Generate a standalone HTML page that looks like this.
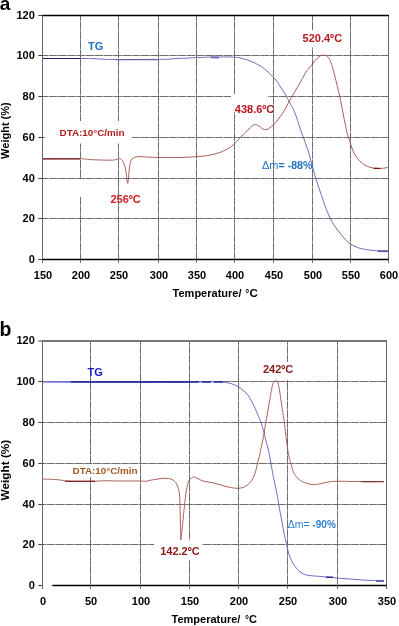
<!DOCTYPE html>
<html><head><meta charset="utf-8"><style>
html,body{margin:0;padding:0;background:#fff;width:399px;height:626px;overflow:hidden;}
svg{display:block;filter:blur(0.3px);}
</style></head><body>
<svg width="399" height="626" viewBox="0 0 399 626">
<style>text{font-family:"Liberation Sans",sans-serif;} .tl{font-size:11px;font-weight:bold;fill:#000;} .ti{font-size:11px;font-weight:bold;fill:#000;} .an{font-size:11px;font-weight:bold;}</style>
<rect width="399" height="626" fill="#fff"/>
<line x1="80.5" y1="15.5" x2="80.5" y2="259.5" stroke="#6e6e6e" stroke-width="1" stroke-dasharray="8.6 0.6" stroke-dashoffset="2.8"/>
<line x1="118.5" y1="15.5" x2="118.5" y2="259.5" stroke="#6e6e6e" stroke-width="1" stroke-dasharray="8.6 0.6" stroke-dashoffset="2.8"/>
<line x1="158.5" y1="15.5" x2="158.5" y2="259.5" stroke="#6e6e6e" stroke-width="1" stroke-dasharray="8.6 0.6" stroke-dashoffset="2.8"/>
<line x1="196.5" y1="15.5" x2="196.5" y2="259.5" stroke="#6e6e6e" stroke-width="1" stroke-dasharray="8.6 0.6" stroke-dashoffset="2.8"/>
<line x1="234.5" y1="15.5" x2="234.5" y2="259.5" stroke="#6e6e6e" stroke-width="1" stroke-dasharray="8.6 0.6" stroke-dashoffset="2.8"/>
<line x1="273.5" y1="15.5" x2="273.5" y2="259.5" stroke="#6e6e6e" stroke-width="1" stroke-dasharray="8.6 0.6" stroke-dashoffset="2.8"/>
<line x1="312.5" y1="15.5" x2="312.5" y2="259.5" stroke="#6e6e6e" stroke-width="1" stroke-dasharray="8.6 0.6" stroke-dashoffset="2.8"/>
<line x1="350.5" y1="15.5" x2="350.5" y2="259.5" stroke="#6e6e6e" stroke-width="1" stroke-dasharray="8.6 0.6" stroke-dashoffset="2.8"/>
<line x1="42.5" y1="55.5" x2="388.5" y2="55.5" stroke="#6e6e6e" stroke-width="1" stroke-dasharray="8.6 0.6" stroke-dashoffset="2.8"/>
<line x1="42.5" y1="96.5" x2="388.5" y2="96.5" stroke="#6e6e6e" stroke-width="1" stroke-dasharray="8.6 0.6" stroke-dashoffset="2.8"/>
<line x1="42.5" y1="137.5" x2="388.5" y2="137.5" stroke="#6e6e6e" stroke-width="1" stroke-dasharray="8.6 0.6" stroke-dashoffset="2.8"/>
<line x1="42.5" y1="178.5" x2="388.5" y2="178.5" stroke="#6e6e6e" stroke-width="1" stroke-dasharray="8.6 0.6" stroke-dashoffset="2.8"/>
<line x1="42.5" y1="218.5" x2="388.5" y2="218.5" stroke="#6e6e6e" stroke-width="1" stroke-dasharray="8.6 0.6" stroke-dashoffset="2.8"/>
<path d="M42.40,58.50 C48.67,58.50 71.57,58.48 80.00,58.50 C88.43,58.52 88.83,58.47 93.00,58.60 C97.17,58.73 101.33,59.15 105.00,59.30 C108.67,59.45 107.50,59.48 115.00,59.50 C122.50,59.52 141.17,59.45 150.00,59.40 C158.83,59.35 163.83,59.33 168.00,59.20 C172.17,59.07 171.33,58.80 175.00,58.60 C178.67,58.40 185.83,58.18 190.00,58.00 C194.17,57.82 196.67,57.65 200.00,57.50 C203.33,57.35 205.00,57.18 210.00,57.10 C215.00,57.02 225.83,56.97 230.00,57.00 C234.17,57.03 233.33,57.15 235.00,57.30 C236.67,57.45 237.50,57.30 240.00,57.90 C242.50,58.50 246.67,59.58 250.00,60.90 C253.33,62.22 257.33,64.25 260.00,65.80 C262.67,67.35 263.50,68.00 266.00,70.20 C268.50,72.40 272.67,76.37 275.00,79.00 C277.33,81.63 278.33,83.50 280.00,86.00 C281.67,88.50 283.33,91.17 285.00,94.00 C286.67,96.83 288.33,99.83 290.00,103.00 C291.67,106.17 293.33,108.83 295.00,113.00 C296.67,117.17 298.45,123.50 300.00,128.00 C301.55,132.50 302.97,136.25 304.30,140.00 C305.63,143.75 306.63,146.08 308.00,150.50 C309.37,154.92 311.20,161.83 312.50,166.50 C313.80,171.17 314.55,174.42 315.80,178.50 C317.05,182.58 318.80,187.42 320.00,191.00 C321.20,194.58 322.17,197.53 323.00,200.00 C323.83,202.47 323.83,202.80 325.00,205.80 C326.17,208.80 328.33,214.55 330.00,218.00 C331.67,221.45 333.33,224.00 335.00,226.50 C336.67,229.00 338.33,230.88 340.00,233.00 C341.67,235.12 343.33,237.42 345.00,239.20 C346.67,240.98 348.33,242.52 350.00,243.70 C351.67,244.88 353.33,245.53 355.00,246.30 C356.67,247.07 357.50,247.67 360.00,248.30 C362.50,248.93 366.67,249.65 370.00,250.10 C373.33,250.55 377.00,250.85 380.00,251.00 C383.00,251.15 386.67,251.00 388.00,251.00" fill="none" stroke="#5e5eae" stroke-width="0.9"/>
<path d="M42.4,58.5 L80,58.5" fill="none" stroke="#20206a" stroke-width="1.2"/>
<path d="M42.40,158.80 C48.67,158.80 72.07,158.67 80.00,158.80 C87.93,158.93 85.00,159.37 90.00,159.60 C95.00,159.83 105.67,160.20 110.00,160.20 C114.33,160.20 114.42,159.83 116.00,159.60 C117.58,159.37 118.50,158.70 119.50,158.80 C120.50,158.90 121.17,159.17 122.00,160.20 C122.83,161.23 123.83,163.03 124.50,165.00 C125.17,166.97 125.50,168.95 126.00,172.00 C126.50,175.05 127.07,182.47 127.50,183.30 C127.93,184.13 128.32,179.22 128.60,177.00 C128.88,174.78 128.93,172.33 129.20,170.00 C129.47,167.67 129.73,164.83 130.20,163.00 C130.67,161.17 131.20,159.97 132.00,159.00 C132.80,158.03 133.67,157.60 135.00,157.20 C136.33,156.80 137.50,156.60 140.00,156.60 C142.50,156.60 146.67,157.05 150.00,157.20 C153.33,157.35 155.00,157.45 160.00,157.50 C165.00,157.55 173.33,157.68 180.00,157.50 C186.67,157.32 195.00,156.82 200.00,156.40 C205.00,155.98 206.67,155.67 210.00,155.00 C213.33,154.33 216.67,153.65 220.00,152.40 C223.33,151.15 227.25,149.30 230.00,147.50 C232.75,145.70 234.67,143.33 236.50,141.60 C238.33,139.87 239.58,138.60 241.00,137.10 C242.42,135.60 243.67,133.95 245.00,132.60 C246.33,131.25 247.83,130.10 249.00,129.00 C250.17,127.90 250.92,126.75 252.00,126.00 C253.08,125.25 254.33,124.50 255.50,124.50 C256.67,124.50 257.92,125.33 259.00,126.00 C260.08,126.67 261.08,127.90 262.00,128.50 C262.92,129.10 263.67,129.43 264.50,129.60 C265.33,129.77 266.08,129.83 267.00,129.50 C267.92,129.17 268.95,128.33 270.00,127.60 C271.05,126.87 272.25,126.07 273.30,125.10 C274.35,124.13 275.18,123.17 276.30,121.80 C277.42,120.43 278.75,118.65 280.00,116.90 C281.25,115.15 282.58,113.28 283.80,111.30 C285.02,109.32 286.35,106.75 287.30,105.00 C288.25,103.25 288.75,102.18 289.50,100.80 C290.25,99.42 290.92,98.20 291.80,96.70 C292.68,95.20 293.80,93.50 294.80,91.80 C295.80,90.10 296.80,88.25 297.80,86.50 C298.80,84.75 299.80,83.05 300.80,81.30 C301.80,79.55 302.93,77.53 303.80,76.00 C304.67,74.47 305.13,73.38 306.00,72.10 C306.87,70.82 308.00,69.50 309.00,68.30 C310.00,67.10 311.12,66.03 312.00,64.90 C312.88,63.77 313.42,62.62 314.30,61.50 C315.18,60.38 316.30,59.13 317.30,58.20 C318.30,57.27 319.38,56.42 320.30,55.90 C321.22,55.38 321.95,55.20 322.80,55.10 C323.65,55.00 324.57,54.98 325.40,55.30 C326.23,55.62 327.00,56.13 327.80,57.00 C328.60,57.87 329.33,58.52 330.20,60.50 C331.07,62.48 332.15,66.00 333.00,68.90 C333.85,71.80 334.55,74.92 335.30,77.90 C336.05,80.88 336.77,83.73 337.50,86.80 C338.23,89.87 339.05,93.32 339.70,96.30 C340.35,99.28 340.75,101.43 341.40,104.70 C342.05,107.97 342.77,111.68 343.60,115.90 C344.43,120.12 345.62,126.48 346.40,130.00 C347.18,133.52 347.70,135.00 348.30,137.00 C348.90,139.00 349.38,140.12 350.00,142.00 C350.62,143.88 351.17,146.13 352.00,148.30 C352.83,150.47 353.67,152.82 355.00,155.00 C356.33,157.18 358.33,159.70 360.00,161.40 C361.67,163.10 363.33,164.22 365.00,165.20 C366.67,166.18 368.33,166.78 370.00,167.30 C371.67,167.82 373.33,168.10 375.00,168.30 C376.67,168.50 378.33,168.55 380.00,168.50 C381.67,168.45 383.67,168.20 385.00,168.00 C386.33,167.80 387.50,167.42 388.00,167.30" fill="none" stroke="#a04e48" stroke-width="0.9"/>
<path d="M42.4,158.8 L80,158.8" fill="none" stroke="#7a1c1c" stroke-width="1.3"/>
<path d="M373.5,168.4 L380,168.4" fill="none" stroke="#6a1818" stroke-width="1.3"/>
<path d="M378,251.2 L388,251.2" fill="none" stroke="#5656a8" stroke-width="1.7"/>
<path d="M211,57.4 L219,57.6" fill="none" stroke="#6a6ab8" stroke-width="1.6"/>
<path d="M116,59.6 L158,59.6" fill="none" stroke="#6464b0" stroke-width="1.4"/>
<line x1="42.5" y1="15.5" x2="42.5" y2="262.8" stroke="#666" stroke-width="1"/>
<line x1="388.5" y1="15.5" x2="388.5" y2="262.8" stroke="#666" stroke-width="1"/>
<line x1="42.0" y1="15.5" x2="389.0" y2="15.5" stroke="#000" stroke-width="1.4"/>
<line x1="42.0" y1="259.5" x2="389.0" y2="259.5" stroke="#000" stroke-width="1.4"/>
<line x1="38.3" y1="15.5" x2="42.5" y2="15.5" stroke="#444" stroke-width="1"/>
<text x="34.8" y="19.0" text-anchor="end" class="tl">120</text>
<line x1="38.3" y1="55.5" x2="42.5" y2="55.5" stroke="#444" stroke-width="1"/>
<text x="34.8" y="59.0" text-anchor="end" class="tl">100</text>
<line x1="38.3" y1="96.5" x2="42.5" y2="96.5" stroke="#444" stroke-width="1"/>
<text x="34.8" y="100.0" text-anchor="end" class="tl">80</text>
<line x1="38.3" y1="137.5" x2="42.5" y2="137.5" stroke="#444" stroke-width="1"/>
<text x="34.8" y="141.0" text-anchor="end" class="tl">60</text>
<line x1="38.3" y1="178.5" x2="42.5" y2="178.5" stroke="#444" stroke-width="1"/>
<text x="34.8" y="182.0" text-anchor="end" class="tl">40</text>
<line x1="38.3" y1="218.5" x2="42.5" y2="218.5" stroke="#444" stroke-width="1"/>
<text x="34.8" y="222.0" text-anchor="end" class="tl">20</text>
<line x1="38.3" y1="259.5" x2="42.5" y2="259.5" stroke="#444" stroke-width="1"/>
<text x="34.8" y="263.0" text-anchor="end" class="tl">0</text>
<line x1="42.5" y1="259.5" x2="42.5" y2="262.8" stroke="#666" stroke-width="1"/>
<text x="43.0" y="279.2" text-anchor="middle" class="tl">150</text>
<line x1="80.5" y1="259.5" x2="80.5" y2="262.8" stroke="#666" stroke-width="1"/>
<text x="81.0" y="279.2" text-anchor="middle" class="tl">200</text>
<line x1="118.5" y1="259.5" x2="118.5" y2="262.8" stroke="#666" stroke-width="1"/>
<text x="119.0" y="279.2" text-anchor="middle" class="tl">250</text>
<line x1="158.5" y1="259.5" x2="158.5" y2="262.8" stroke="#666" stroke-width="1"/>
<text x="159.0" y="279.2" text-anchor="middle" class="tl">300</text>
<line x1="196.5" y1="259.5" x2="196.5" y2="262.8" stroke="#666" stroke-width="1"/>
<text x="197.0" y="279.2" text-anchor="middle" class="tl">350</text>
<line x1="234.5" y1="259.5" x2="234.5" y2="262.8" stroke="#666" stroke-width="1"/>
<text x="235.0" y="279.2" text-anchor="middle" class="tl">400</text>
<line x1="273.5" y1="259.5" x2="273.5" y2="262.8" stroke="#666" stroke-width="1"/>
<text x="274.0" y="279.2" text-anchor="middle" class="tl">450</text>
<line x1="312.5" y1="259.5" x2="312.5" y2="262.8" stroke="#666" stroke-width="1"/>
<text x="313.0" y="279.2" text-anchor="middle" class="tl">500</text>
<line x1="350.5" y1="259.5" x2="350.5" y2="262.8" stroke="#666" stroke-width="1"/>
<text x="351.0" y="279.2" text-anchor="middle" class="tl">550</text>
<line x1="388.5" y1="259.5" x2="388.5" y2="262.8" stroke="#666" stroke-width="1"/>
<text x="389.0" y="279.2" text-anchor="middle" class="tl">600</text>
<text x="-0.3" y="9.9" style="font-size:19px;font-weight:bold">a</text>
<text x="172.6" y="297.4" class="ti">Temperature/<tspan x="245.3" y="297.4" style="font-size:10px">°</tspan><tspan x="249.5" y="297.4" style="font-size:11.5px">C</tspan></text>
<text transform="translate(9.0,158.9) rotate(-90)" x="0" y="0" class="ti">Weight (%)</text>
<text x="88" y="49.8" style="font-size:11px;font-weight:bold;fill:#1f6fbf">TG</text>
<rect x="45" y="121" width="87" height="22.5" fill="#fff"/>
<text x="59.6" y="135.6" style="font-size:9.85px;font-weight:bold;fill:#b01c1c">DTA:10°C/min</text>
<rect x="79" y="179.2" width="3" height="17.6" fill="#fff"/>
<text x="110.4" y="203.1" style="font-size:11px;font-weight:bold;fill:#d02020">256ºC</text>
<rect x="231" y="94" width="37" height="18" fill="#fff"/>
<text x="234.8" y="112.6" style="font-size:11px;font-weight:bold;fill:#b8161e">438.6ºC</text>
<rect x="300" y="30" width="44" height="17.5" fill="#fff"/>
<text x="302.6" y="42.4" style="font-size:11px;font-weight:bold;fill:#b8161e">520.4ºC</text>
<text x="262.0" y="169.2" style="font-size:11px;fill:#1f70c0">Δm<tspan style="font-size:10.6px;font-weight:bold">= -88%</tspan></text>
<line x1="90.5" y1="341.0" x2="90.5" y2="585.5" stroke="#6e6e6e" stroke-width="1" stroke-dasharray="8.6 0.6" stroke-dashoffset="4.8"/>
<line x1="140.5" y1="341.0" x2="140.5" y2="585.5" stroke="#6e6e6e" stroke-width="1" stroke-dasharray="8.6 0.6" stroke-dashoffset="4.8"/>
<line x1="189.5" y1="341.0" x2="189.5" y2="585.5" stroke="#6e6e6e" stroke-width="1" stroke-dasharray="8.6 0.6" stroke-dashoffset="4.8"/>
<line x1="238.5" y1="341.0" x2="238.5" y2="585.5" stroke="#6e6e6e" stroke-width="1" stroke-dasharray="8.6 0.6" stroke-dashoffset="4.8"/>
<line x1="287.5" y1="341.0" x2="287.5" y2="585.5" stroke="#6e6e6e" stroke-width="1" stroke-dasharray="8.6 0.6" stroke-dashoffset="4.8"/>
<line x1="337.5" y1="341.0" x2="337.5" y2="585.5" stroke="#6e6e6e" stroke-width="1" stroke-dasharray="8.6 0.6" stroke-dashoffset="4.8"/>
<line x1="42.5" y1="381.5" x2="386.5" y2="381.5" stroke="#6e6e6e" stroke-width="1" stroke-dasharray="8.6 0.6" stroke-dashoffset="4.8"/>
<line x1="42.5" y1="422.5" x2="386.5" y2="422.5" stroke="#6e6e6e" stroke-width="1" stroke-dasharray="8.6 0.6" stroke-dashoffset="4.8"/>
<line x1="42.5" y1="463.5" x2="386.5" y2="463.5" stroke="#6e6e6e" stroke-width="1" stroke-dasharray="8.6 0.6" stroke-dashoffset="4.8"/>
<line x1="42.5" y1="504.5" x2="386.5" y2="504.5" stroke="#6e6e6e" stroke-width="1" stroke-dasharray="8.6 0.6" stroke-dashoffset="4.8"/>
<line x1="42.5" y1="544.5" x2="386.5" y2="544.5" stroke="#6e6e6e" stroke-width="1" stroke-dasharray="8.6 0.6" stroke-dashoffset="4.8"/>
<path d="M42.50,381.80 C47.25,381.82 54.75,381.87 71.00,381.90 C87.25,381.93 120.17,381.98 140.00,382.00 C159.83,382.02 177.50,382.03 190.00,382.00 C202.50,381.97 209.58,381.80 215.00,381.80 C220.42,381.80 220.00,381.75 222.50,382.00 C225.00,382.25 227.75,382.72 230.00,383.30 C232.25,383.88 234.33,384.73 236.00,385.50 C237.67,386.27 238.70,387.00 240.00,387.90 C241.30,388.80 242.52,389.77 243.80,390.90 C245.08,392.03 246.42,393.00 247.70,394.70 C248.98,396.40 250.23,398.75 251.50,401.10 C252.77,403.45 254.13,406.25 255.30,408.80 C256.47,411.35 257.53,414.07 258.50,416.40 C259.47,418.73 260.25,420.35 261.10,422.80 C261.95,425.25 262.73,427.90 263.60,431.10 C264.47,434.30 265.43,438.58 266.30,442.00 C267.17,445.42 268.10,448.43 268.80,451.60 C269.50,454.77 269.72,456.68 270.50,461.00 C271.28,465.32 272.48,472.33 273.50,477.50 C274.52,482.67 275.58,486.72 276.60,492.00 C277.62,497.28 278.70,504.20 279.60,509.20 C280.50,514.20 281.20,517.73 282.00,522.00 C282.80,526.27 283.60,530.93 284.40,534.80 C285.20,538.67 286.20,542.53 286.80,545.20 C287.40,547.87 287.47,548.80 288.00,550.80 C288.53,552.80 289.13,555.07 290.00,557.20 C290.87,559.33 292.00,561.60 293.20,563.60 C294.40,565.60 295.73,567.60 297.20,569.20 C298.67,570.80 300.13,572.17 302.00,573.20 C303.87,574.23 305.40,574.87 308.40,575.40 C311.40,575.93 316.40,576.07 320.00,576.40 C323.60,576.73 326.67,577.08 330.00,577.40 C333.33,577.72 336.67,578.03 340.00,578.30 C343.33,578.57 346.67,578.75 350.00,579.00 C353.33,579.25 356.67,579.57 360.00,579.80 C363.33,580.03 366.00,580.23 370.00,580.40 C374.00,580.57 381.67,580.73 384.00,580.80" fill="none" stroke="#5c5cc4" stroke-width="0.9"/>
<path d="M71,381.9 L190,382" fill="none" stroke="#1c1c9a" stroke-width="1.5"/>
<path d="M190,382 L224,382" fill="none" stroke="#2a2a9a" stroke-width="1.3" stroke-dasharray="9 3"/>
<path d="M42.5,381.8 L71,381.9" fill="none" stroke="#7878d8" stroke-width="1.5"/>
<path d="M42.50,479.00 C44.58,479.08 51.58,479.27 55.00,479.50 C58.42,479.73 60.50,480.12 63.00,480.40 C65.50,480.68 65.50,481.05 70.00,481.20 C74.50,481.35 84.17,481.37 90.00,481.30 C95.83,481.23 100.00,480.85 105.00,480.80 C110.00,480.75 114.17,480.97 120.00,481.00 C125.83,481.03 135.83,480.93 140.00,481.00 C144.17,481.07 143.33,481.52 145.00,481.40 C146.67,481.28 148.33,480.62 150.00,480.30 C151.67,479.98 152.83,479.83 155.00,479.50 C157.17,479.17 160.73,478.45 163.00,478.30 C165.27,478.15 167.07,478.38 168.60,478.60 C170.13,478.82 171.00,478.93 172.20,479.60 C173.40,480.27 174.80,481.20 175.80,482.60 C176.80,484.00 177.60,486.10 178.20,488.00 C178.80,489.90 179.10,491.22 179.40,494.00 C179.70,496.78 179.85,500.72 180.00,504.70 C180.15,508.68 180.20,513.68 180.30,517.90 C180.40,522.12 180.52,526.32 180.60,530.00 C180.68,533.68 180.60,539.62 180.80,540.00 C181.00,540.38 181.43,535.58 181.80,532.30 C182.17,529.02 182.60,524.30 183.00,520.30 C183.40,516.30 183.80,512.10 184.20,508.30 C184.60,504.50 185.00,500.68 185.40,497.50 C185.80,494.32 186.10,491.78 186.60,489.20 C187.10,486.62 187.82,483.70 188.40,482.00 C188.98,480.30 189.25,479.83 190.10,479.00 C190.95,478.17 192.35,477.13 193.50,477.00 C194.65,476.87 195.25,477.48 197.00,478.20 C198.75,478.92 201.37,480.55 204.00,481.30 C206.63,482.05 209.87,482.05 212.80,482.70 C215.73,483.35 218.67,484.40 221.60,485.20 C224.53,486.00 227.63,486.98 230.40,487.50 C233.17,488.02 235.87,488.40 238.20,488.30 C240.53,488.20 242.50,487.77 244.40,486.90 C246.30,486.03 248.13,484.62 249.60,483.10 C251.07,481.58 252.17,479.85 253.20,477.80 C254.23,475.75 255.08,473.28 255.80,470.80 C256.52,468.32 256.92,465.23 257.50,462.90 C258.08,460.57 258.70,459.33 259.30,456.80 C259.90,454.27 260.38,451.13 261.10,447.70 C261.82,444.27 262.85,440.25 263.60,436.20 C264.35,432.15 264.95,427.23 265.60,423.40 C266.25,419.57 266.77,417.35 267.50,413.20 C268.23,409.05 269.29,402.62 270.00,398.50 C270.71,394.38 271.17,391.17 271.75,388.50 C272.33,385.83 272.82,383.82 273.50,382.50 C274.18,381.18 275.07,380.53 275.80,380.60 C276.53,380.67 277.27,381.20 277.90,382.90 C278.53,384.60 279.02,387.45 279.60,390.80 C280.18,394.15 280.80,398.90 281.40,403.00 C282.00,407.10 282.70,412.17 283.20,415.40 C283.70,418.63 283.97,419.13 284.40,422.40 C284.83,425.67 285.23,430.40 285.80,435.00 C286.37,439.60 287.20,446.12 287.80,450.00 C288.40,453.88 288.92,456.17 289.40,458.30 C289.88,460.43 290.12,460.78 290.70,462.80 C291.28,464.82 292.27,468.48 292.90,470.40 C293.53,472.32 293.92,473.23 294.50,474.30 C295.08,475.37 295.65,475.95 296.40,476.80 C297.15,477.65 298.03,478.60 299.00,479.40 C299.97,480.20 301.13,481.02 302.20,481.60 C303.27,482.18 304.43,482.57 305.40,482.90 C306.37,483.23 307.07,483.35 308.00,483.60 C308.93,483.85 309.73,484.23 311.00,484.40 C312.27,484.57 314.10,484.70 315.60,484.60 C317.10,484.50 318.50,484.10 320.00,483.80 C321.50,483.50 322.83,483.15 324.60,482.80 C326.37,482.45 328.60,481.95 330.60,481.70 C332.60,481.45 334.37,481.37 336.60,481.30 C338.83,481.23 341.77,481.27 344.00,481.30 C346.23,481.33 347.33,481.47 350.00,481.50 C352.67,481.53 356.67,481.45 360.00,481.50 C363.33,481.55 366.00,481.80 370.00,481.80 C374.00,481.80 381.67,481.55 384.00,481.50" fill="none" stroke="#9e5048" stroke-width="0.9"/>
<path d="M65,481.3 L95,481.3" fill="none" stroke="#7a1c1c" stroke-width="1.2"/>
<path d="M361,481.6 L384,481.6" fill="none" stroke="#8a3a30" stroke-width="1.2"/>
<path d="M326,577.2 L333,577.3" fill="none" stroke="#2a2a90" stroke-width="1.4"/>
<path d="M376,581 L384,581" fill="none" stroke="#5050b0" stroke-width="1.6"/>
<line x1="42.5" y1="341.0" x2="42.5" y2="588.8" stroke="#666" stroke-width="1"/>
<line x1="386.5" y1="341.0" x2="386.5" y2="588.8" stroke="#666" stroke-width="1"/>
<line x1="42.0" y1="341.0" x2="387.0" y2="341.0" stroke="#777" stroke-width="1.8"/>
<line x1="52.3" y1="585.5" x2="387.0" y2="585.5" stroke="#000" stroke-width="1.4"/>
<line x1="38.3" y1="341.0" x2="42.5" y2="341.0" stroke="#444" stroke-width="1"/>
<text x="34.8" y="344.4" text-anchor="end" class="tl">120</text>
<line x1="38.3" y1="381.5" x2="42.5" y2="381.5" stroke="#444" stroke-width="1"/>
<text x="34.8" y="384.9" text-anchor="end" class="tl">100</text>
<line x1="38.3" y1="422.5" x2="42.5" y2="422.5" stroke="#444" stroke-width="1"/>
<text x="34.8" y="425.9" text-anchor="end" class="tl">80</text>
<line x1="38.3" y1="463.5" x2="42.5" y2="463.5" stroke="#444" stroke-width="1"/>
<text x="34.8" y="466.9" text-anchor="end" class="tl">60</text>
<line x1="38.3" y1="504.5" x2="42.5" y2="504.5" stroke="#444" stroke-width="1"/>
<text x="34.8" y="507.9" text-anchor="end" class="tl">40</text>
<line x1="38.3" y1="544.5" x2="42.5" y2="544.5" stroke="#444" stroke-width="1"/>
<text x="34.8" y="547.9" text-anchor="end" class="tl">20</text>
<line x1="38.3" y1="585.5" x2="42.5" y2="585.5" stroke="#444" stroke-width="1"/>
<text x="34.8" y="588.9" text-anchor="end" class="tl">0</text>
<line x1="42.5" y1="585.5" x2="42.5" y2="588.8" stroke="#666" stroke-width="1"/>
<text x="43.0" y="604.8" text-anchor="middle" class="tl">0</text>
<line x1="90.5" y1="585.5" x2="90.5" y2="588.8" stroke="#666" stroke-width="1"/>
<text x="91.0" y="604.8" text-anchor="middle" class="tl">50</text>
<line x1="140.5" y1="585.5" x2="140.5" y2="588.8" stroke="#666" stroke-width="1"/>
<text x="141.0" y="604.8" text-anchor="middle" class="tl">100</text>
<line x1="189.5" y1="585.5" x2="189.5" y2="588.8" stroke="#666" stroke-width="1"/>
<text x="190.0" y="604.8" text-anchor="middle" class="tl">150</text>
<line x1="238.5" y1="585.5" x2="238.5" y2="588.8" stroke="#666" stroke-width="1"/>
<text x="239.0" y="604.8" text-anchor="middle" class="tl">200</text>
<line x1="287.5" y1="585.5" x2="287.5" y2="588.8" stroke="#666" stroke-width="1"/>
<text x="288.0" y="604.8" text-anchor="middle" class="tl">250</text>
<line x1="337.5" y1="585.5" x2="337.5" y2="588.8" stroke="#666" stroke-width="1"/>
<text x="338.0" y="604.8" text-anchor="middle" class="tl">300</text>
<line x1="386.5" y1="585.5" x2="386.5" y2="588.8" stroke="#666" stroke-width="1"/>
<text x="387.0" y="604.8" text-anchor="middle" class="tl">350</text>
<text x="-0.6" y="335.8" style="font-size:19.5px;font-weight:bold">b</text>
<text x="171.5" y="623.3" class="ti">Temperature/<tspan x="244.9" y="622.9" style="font-size:10px">°</tspan><tspan x="249.0" y="623.3">C</tspan></text>
<text transform="translate(9.2,500.5) rotate(-90)" x="0" y="0" class="ti" style="font-size:11.8px">Weight (%)</text>
<text x="87.5" y="375.5" style="font-size:11px;font-weight:bold;fill:#1a1ac8">TG</text>
<rect x="260" y="362" width="36" height="18" fill="#fff"/>
<text x="263" y="373.2" style="font-size:11px;font-weight:bold;fill:#8b1a1a">242ºC</text>
<rect x="70" y="464.2" width="69.5" height="13" fill="#fff"/>
<text x="72.6" y="474.4" style="font-size:9.85px;font-weight:bold;fill:#a3581f">DTA:10°C/min</text>
<rect x="154" y="540" width="48" height="20" fill="#fff"/>
<text x="160.2" y="555.3" style="font-size:11px;font-weight:bold;fill:#8b1a1a">142.2ºC</text>
<text x="287.8" y="527.8" style="font-size:10.5px;fill:#2a7fd0">Δm=<tspan style="font-size:10px;font-weight:bold"> -90%</tspan></text>
</svg>
</body></html>
